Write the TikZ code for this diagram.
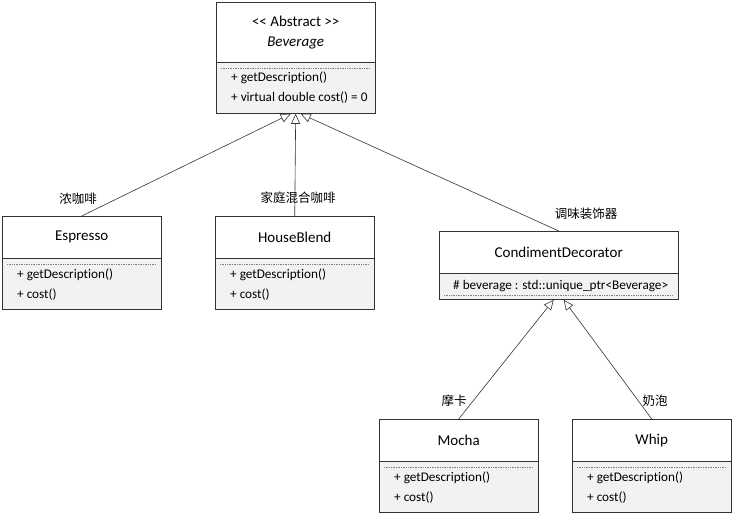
\documentclass[tikz,border=0pt]{standalone}
\usepackage{fontspec}
\setmainfont{Carlito}[Ligatures={NoCommon}]
\newfontfamily\cjk{Noto Sans CJK SC}
\usetikzlibrary{arrows.meta}
\definecolor{linegray}{HTML}{333333}
\definecolor{bodygray}{HTML}{F2F2F2}
\tikzset{
  classhead/.style={draw=linegray, fill=white, anchor=north west, minimum width=159pt,
    minimum height=42pt, inner sep=0pt, font=\fontsize{15}{20}\selectfont},
  classbody/.style={draw=linegray, fill=bodygray, anchor=north west, minimum width=159pt,
    minimum height=51pt, inner sep=0pt},
  member/.style={anchor=west, inner sep=0pt, font=\fontsize{13.2}{15}\selectfont},
  sepline/.style={draw=gray, densely dotted, line width=0.7pt},
  inherit/.style={draw=linegray, line width=0.6pt, -{Triangle[open, length=10pt, width=9pt, fill=white]}},
  lbl/.style={font=\cjk\fontsize{12.5}{14}\selectfont, inner sep=1pt}
}

\begin{document}
\begin{tikzpicture}[x=1pt,y=-1pt]
  \useasboundingbox (0,0) rectangle (733,513);

  % abstract base
  \node[classhead, minimum height=60pt, align=center] (bev) at (216,2)
    {{<}{<} Abstract {>}{>}\\\textit{Beverage}};
  \node[classbody] (bev-b) at (bev.south west) {};
  \draw[sepline] ([xshift=5pt,yshift=-6pt]bev-b.north west) -- ([xshift=-5pt,yshift=-6pt]bev-b.north east);
  \node[member] at ([xshift=15pt,yshift=-15pt]bev-b.north west) {+ getDescription()};
  \node[member] at ([xshift=15pt,yshift=-35pt]bev-b.north west) {+ virtual double cost() = 0};

  % concrete classes
  \foreach \n/\t/\x/\y in {esp/Espresso/2/216, house/HouseBlend/215/216, mocha/Mocha/379/419, whip/Whip/572/419} {
    \node[classhead] (\n) at (\x,\y) {\t};
    \node[classbody] (\n-b) at (\n.south west) {};
    \draw[sepline] ([xshift=5pt,yshift=-6pt]\n-b.north west) -- ([xshift=-5pt,yshift=-6pt]\n-b.north east);
    \node[member] at ([xshift=15pt,yshift=-16pt]\n-b.north west) {+ getDescription()};
    \node[member] at ([xshift=15pt,yshift=-36pt]\n-b.north west) {+ cost()};
  }

  % decorator
  \node[classhead, minimum width=239pt] (cond) at (439,231) {CondimentDecorator};
  \node[classbody, minimum width=239pt, minimum height=26pt] (cond-b) at (cond.south west) {};
  \node[member] at ([xshift=14pt,yshift=-13pt]cond-b.north west) {\# beverage : std::unique\_ptr<Beverage>};
  \draw[sepline] ([xshift=5pt,yshift=-22pt]cond-b.north west) -- ([xshift=-5pt,yshift=-22pt]cond-b.north east);

  % inheritance
  \draw[inherit] (esp.north) -- ([xshift=-5pt]bev-b.south);
  \draw[inherit] (house.north) -- (bev-b.south);
  \draw[inherit] (cond.north) -- ([xshift=5pt]bev-b.south);
  \draw[inherit] (mocha.north) -- ([xshift=-5pt]cond-b.south);
  \draw[inherit] (whip.north) -- ([xshift=5pt]cond-b.south);

  \node[lbl] (esp-l) at (78,199) {浓咖啡};
  \node[lbl] (house-l) at (298,198) {家庭混合咖啡};
  \node[lbl] (cond-l) at (586,214) {调味装饰器};
  \node[lbl] (mocha-l) at (454,401) {摩卡};
  \node[lbl] (whip-l) at (655,401) {奶泡};
\end{tikzpicture}
\end{document}
